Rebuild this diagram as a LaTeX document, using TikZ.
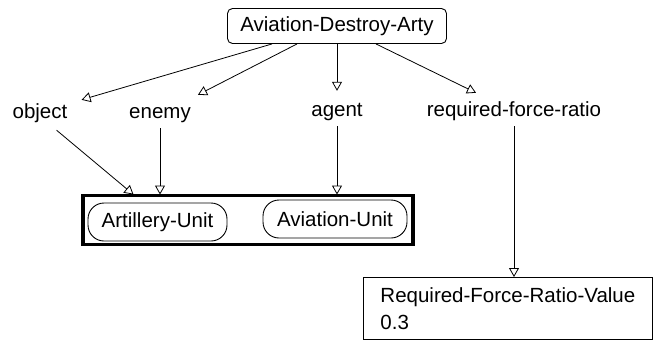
\documentclass[tikz,border=0pt]{standalone}
\usepackage{fontspec}
\setmainfont{Liberation Sans}
\usetikzlibrary{arrows.meta,calc}
\begin{document}
\begin{tikzpicture}[x=1pt,y=-1pt,
  txt/.style={font=\fontsize{20.5}{27}\selectfont},
  lbl/.style={txt,inner sep=0pt,text height=14pt,text depth=4pt},
  rbox/.style={txt,draw,line width=0.9pt,rounded corners=5pt,minimum width=219pt,minimum height=35pt,inner sep=0pt},
  capsule/.style={txt,draw,line width=0.9pt,rounded corners=16pt,minimum height=38pt,inner sep=0pt},
  frame/.style={draw,line width=3.6pt,inner sep=0pt},
  valbox/.style={txt,draw,line width=0.9pt,anchor=north west,text width=255pt,inner xsep=17pt,inner ysep=6pt,minimum height=62pt,align=left},
  arr/.style={line width=0.8pt,-{Triangle[open,length=9pt,width=10pt]}}]
\useasboundingbox (0,0) rectangle (653,340);
\node[rbox] (top) at (337,26) {Aviation-Destroy-Arty};
\node[lbl] (obj) at (40,113) {object};
\node[lbl] (ene) at (160,113) {enemy};
\node[lbl] (agt) at (337,111) {agent};
\node[lbl] (rfr) at (514,111) {required-force-ratio};
\node[frame,minimum width=330pt,minimum height=49pt] (frm) at (248,220) {};
\node[capsule,minimum width=139pt] (art) at (157.5,222) {Artillery-Unit};
\node[capsule,minimum width=144pt] (avi) at (335,219) {Aviation-Unit};
\node[valbox] (req) at (363,277) {Required-Force-Ratio-Value\\0.3};
\draw[arr] ([shift={(-65,0)}]top.south) -- ([shift={(14,-4)}]obj.north east);
\draw[arr] ([shift={(-40,0)}]top.south) -- ([shift={(7,-9)}]ene.north east);
\draw[arr] (top.south) -- ([shift={(0,-11)}]agt.north);
\draw[arr] ([shift={(39,0)}]top.south) -- ([shift={(-38,-9)}]rfr.north);
\draw[arr] ([shift={(-11,8)}]obj.south east) -- ([shift={(-24,-8)}]art.north);
\draw[arr] ([shift={(0,6)}]ene.south) -- ([shift={(2.5,-8)}]art.north);
\draw[arr] ([shift={(0,6)}]agt.south) -- ([shift={(2,-5)}]avi.north);
\draw[arr] ([shift={(0,6)}]rfr.south) -- (rfr.south |- req.north);
\end{tikzpicture}
\end{document}
